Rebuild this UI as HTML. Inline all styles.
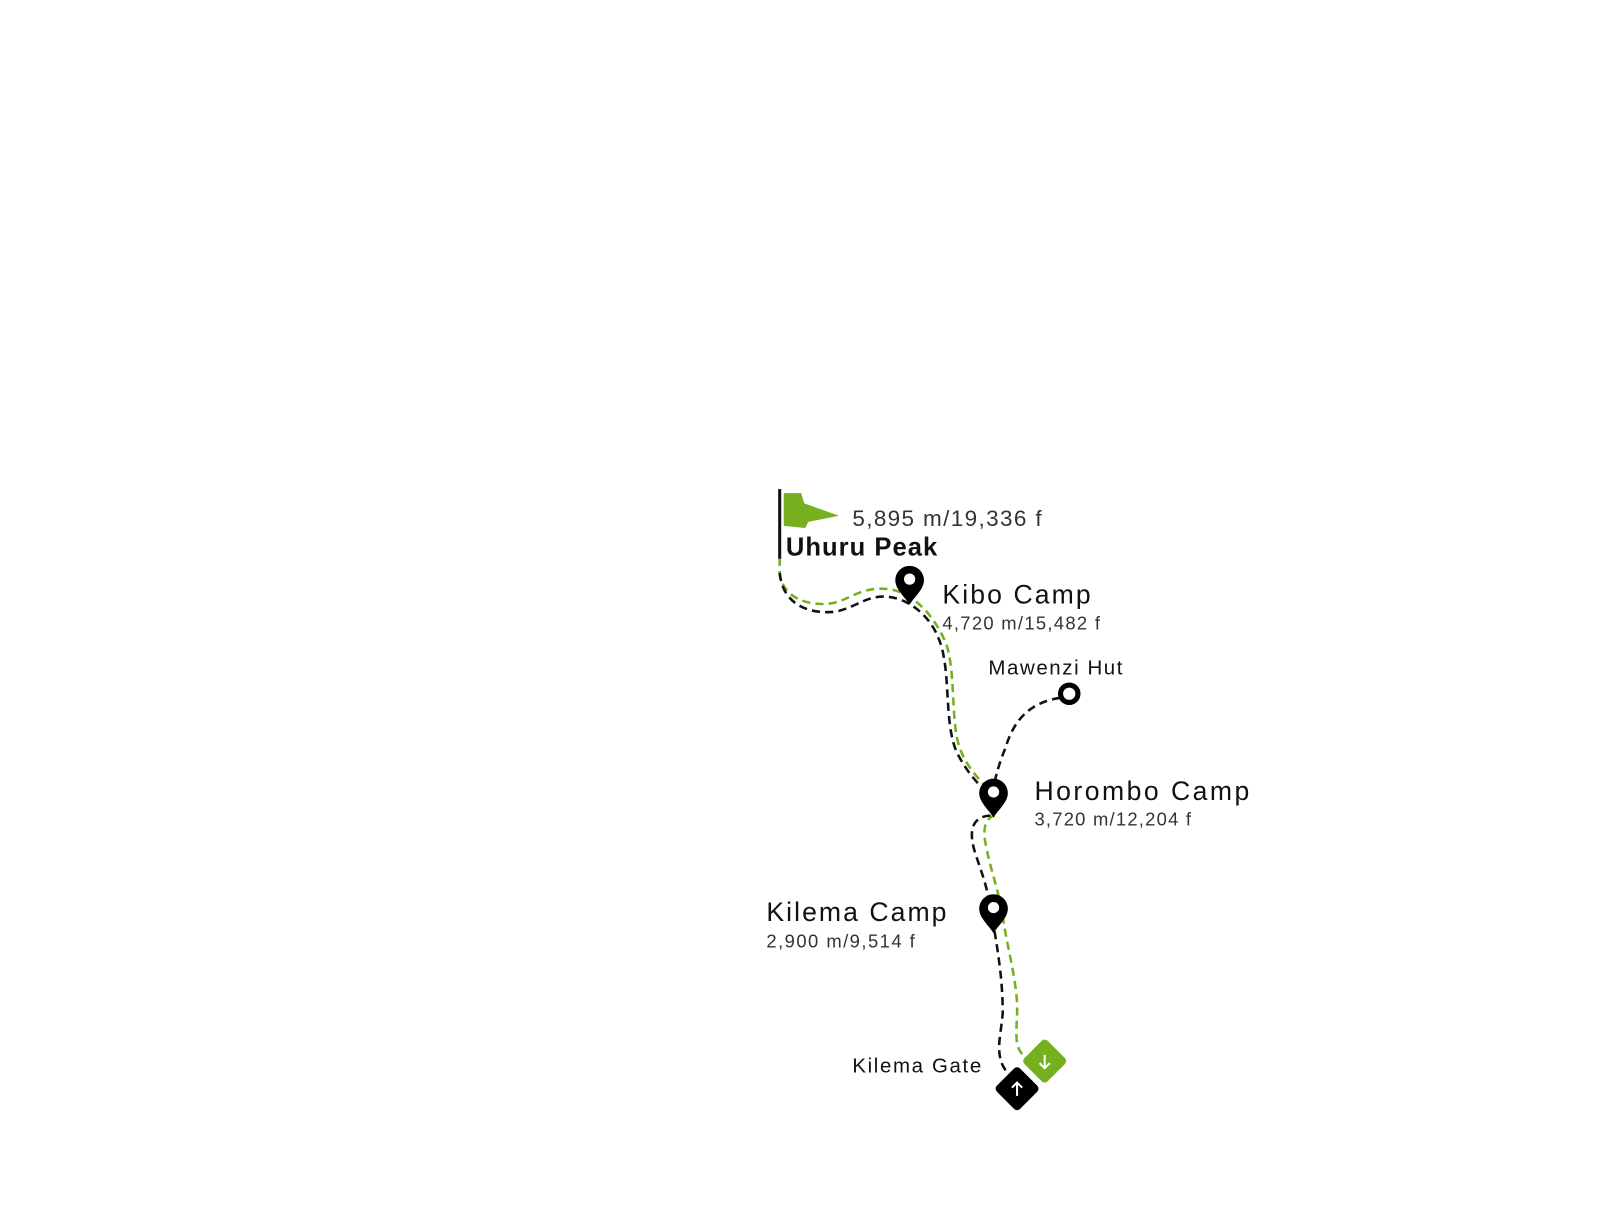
<!DOCTYPE html>
<html><head><meta charset="utf-8"><style>
html,body{margin:0;padding:0;background:#fff;}
svg{display:block;}
text{font-family:"Liberation Sans",sans-serif;}
</style></head><body>
<svg width="1604" height="1232" viewBox="0 0 1604 1232" xmlns="http://www.w3.org/2000/svg">
<g transform="scale(1.0232)">
<g fill="none" stroke-width="2.5" stroke-dasharray="8 5">
<path stroke="#76b01f" d="M762 545 L762 560 C765 585 790 592 810 590 C830 588 840 572 870 576 C895 580 915 605 925 630 C933 655 930 690 935 720 C940 745 955 760 967 772"/>
<path stroke="#111" d="M762 560 C765 592 792 600 815 598 C840 594 850 576 880 586 C905 596 918 618 922 640 C928 670 924 710 935 735 C945 755 955 765 965 775"/>
<path stroke="#76b01f" d="M972 797 C962 800 960 812 964 828 C968 850 976 870 980 895 C984 925 992 950 994 980 C995 1005 988 1025 1004 1034"/>
<path stroke="#111" d="M968 797 C950 798 947 812 952 830 C958 850 965 865 967 885 M972 910 C976 935 980 960 980 990 C978 1015 970 1035 988 1052"/>
<path stroke="#111" d="M1036 682 C1010 686 992 700 983 730 C977 745 974 755 972 765"/>
</g>
<rect x="760.5" y="478" width="3" height="68" fill="#111"/>
<polygon points="766,482 783,482 786,492 820,504 790,510 787,516 766,514" fill="#76b01f"/>
<g fill="#000">
<path d="M889 553 a14 14 0 0 1 14 14 c0 9 -9 16 -14 24 c-5 -8 -14 -15 -14 -24 a14 14 0 0 1 14 -14z"/>
<path d="M971 761 a14 14 0 0 1 14 14 c0 9 -9 16 -14 24 c-5 -8 -14 -15 -14 -24 a14 14 0 0 1 14 -14z"/>
<path d="M971 874 a14 14 0 0 1 14 14 c0 9 -9 16 -14 24 c-5 -8 -14 -15 -14 -24 a14 14 0 0 1 14 -14z"/>
</g>
<g fill="#fff"><circle cx="889" cy="566" r="5.5"/><circle cx="971" cy="774" r="5.5"/><circle cx="971" cy="887" r="5.5"/></g>
<circle cx="1045" cy="678" r="8.5" fill="#fff" stroke="#000" stroke-width="5"/>
<rect x="978" y="1048" width="32" height="32" rx="4" fill="#000" transform="rotate(45 994 1064)"/>
<rect x="1005" y="1021" width="32" height="32" rx="4" fill="#76b01f" transform="rotate(45 1021 1037)"/>
<path d="M994 1071 V1058 M989 1063 L994 1058 L999 1063" stroke="#fff" stroke-width="2" fill="none"/>
<path d="M1021 1031 V1044 M1016 1039 L1021 1044 L1026 1039" stroke="#fff" stroke-width="2" fill="none"/>
<text x="833" y="514" font-size="22" fill="#333" textLength="185" lengthAdjust="spacing">5,895 m/19,336 f</text>
<text x="768" y="543" font-size="25" fill="#111" font-weight="bold" textLength="148" lengthAdjust="spacing">Uhuru Peak</text>
<text x="921" y="590" font-size="26" fill="#111" textLength="145" lengthAdjust="spacing">Kibo Camp</text>
<text x="921" y="615" font-size="18" fill="#333" textLength="154" lengthAdjust="spacing">4,720 m/15,482 f</text>
<text x="966" y="659" font-size="20" fill="#111" textLength="131" lengthAdjust="spacing">Mawenzi Hut</text>
<text x="1011" y="782" font-size="26" fill="#111" textLength="210" lengthAdjust="spacing">Horombo Camp</text>
<text x="1011" y="807" font-size="18" fill="#333" textLength="153" lengthAdjust="spacing">3,720 m/12,204 f</text>
<text x="749" y="900" font-size="26" fill="#111" textLength="176" lengthAdjust="spacing">Kilema Camp</text>
<text x="749" y="926" font-size="18" fill="#333" textLength="145" lengthAdjust="spacing">2,900 m/9,514 f</text>
<text x="833" y="1048" font-size="20" fill="#111" textLength="126" lengthAdjust="spacing">Kilema Gate</text>
</g>
</svg>
</body></html>
